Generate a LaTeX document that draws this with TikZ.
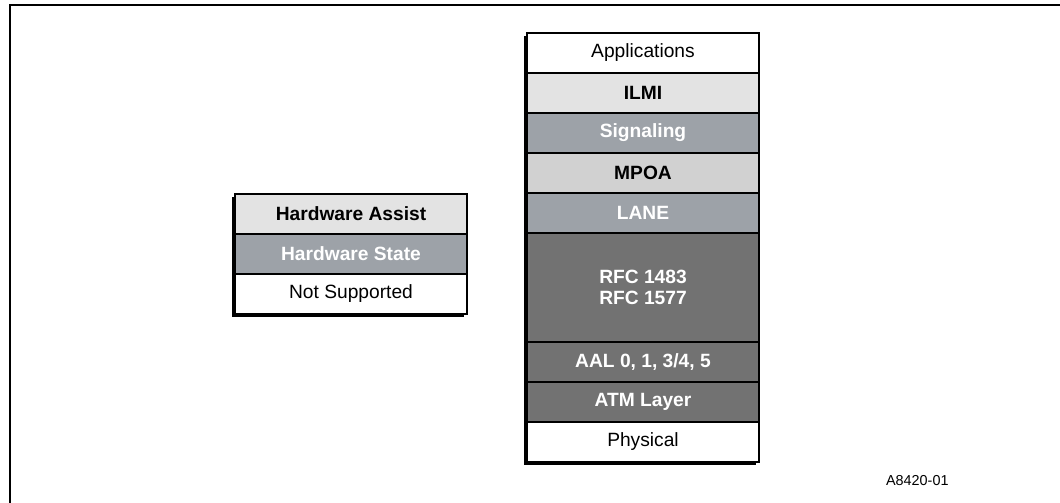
\documentclass[tikz,border=0pt]{standalone}
\usepackage{fontspec}
\setmainfont{Liberation Sans}
\usepackage{tikz}
\usepackage{xcolor}
\usetikzlibrary{positioning, backgrounds}

\definecolor{palegray}{HTML}{E3E3E3}
\definecolor{midgray}{HTML}{D1D1D1}
\definecolor{bluegray}{HTML}{9DA2A8}
\definecolor{darkgray}{HTML}{727272}

\begin{document}
\begin{tikzpicture}[
    x=0.5pt, y=-0.5pt,
    layer/.style={rectangle, draw=black, line width=0.6pt, minimum width=116pt, minimum height=20pt,
                  inner sep=0pt, outer sep=0pt, text centered, font=\fontsize{9.6}{10.5}\selectfont},
    plain/.style={layer, fill=white, text=black},
    pale/.style={layer, fill=palegray, text=black, font=\fontsize{9.6}{10.5}\selectfont\bfseries},
    mid/.style={layer, fill=midgray, text=black, font=\fontsize{9.6}{10.5}\selectfont\bfseries},
    state/.style={layer, fill=bluegray, text=white, font=\fontsize{9.6}{10.5}\selectfont\bfseries},
    dark/.style={layer, fill=darkgray, text=white, font=\fontsize{9.6}{10.5}\selectfont\bfseries},
    shade/.style={fill=black}
]
    \useasboundingbox (0,0) rectangle (1060,503);

    % Frame
    \coordinate (frametl) at (10,5);
    \draw[line width=1pt] (1060,5) -- (frametl) -- (10,503);

    % Legend
    \node[pale, anchor=north west] (assist) at (235,194) {Hardware Assist};
    \node[state, below=0pt of assist] (hwstate) {Hardware State};
    \node[plain, below=0pt of hwstate] (nosupport) {Not Supported};

    % Protocol stack
    \node[plain, anchor=north west] (apps) at (527,33) {Applications};
    \node[pale, below=0pt of apps] (ilmi) {ILMI};
    \node[state, below=0pt of ilmi] (signal) {Signaling};
    \node[mid, below=0pt of signal] (mpoa) {MPOA};
    \node[state, below=0pt of mpoa] (lane) {LANE};
    \node[dark, below=0pt of lane, minimum height=54.5pt, align=center] (rfc) {RFC 1483\\RFC 1577};
    \node[dark, below=0pt of rfc] (aal) {AAL 0, 1, 3/4, 5};
    \node[dark, below=0pt of aal] (atm) {ATM Layer};
    \node[plain, below=0pt of atm] (phys) {Physical};

    % Shadows
    \begin{scope}[on background layer]
        \fill[shade] ([shift={(-1.6pt,-1.6pt)}]assist.north west) rectangle ([shift={(-1.6pt,-1.6pt)}]nosupport.south east);
        \fill[shade] ([shift={(-1.6pt,-1.6pt)}]apps.north west) rectangle ([shift={(-1.6pt,-1.6pt)}]phys.south east);
    \end{scope}

    % Figure id
    \node[anchor=west, font=\fontsize{7.2}{8}\selectfont] (figid) at (879,481) {A8420-01};

\end{tikzpicture}
\end{document}
